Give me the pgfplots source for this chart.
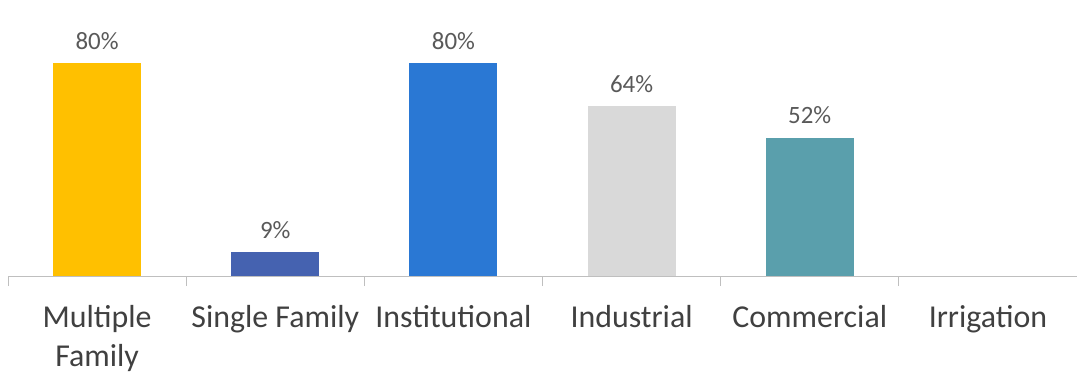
\documentclass[border=0pt]{standalone}
\usepackage{fontspec}
\setmainfont{Carlito}
\usepackage{pgfplots}
\pgfplotsset{compat=1.18}
\definecolor{cMF}{HTML}{FFC000}
\definecolor{cSF}{HTML}{4562B0}
\definecolor{cIN}{HTML}{2A78D4}
\definecolor{cID}{HTML}{D9D9D9}
\definecolor{cCO}{HTML}{5A9FAC}
\definecolor{axgray}{HTML}{BFBFBF}
\definecolor{labgray}{HTML}{404040}
\definecolor{valgray}{HTML}{595959}
\begin{document}
\begin{tikzpicture}
\begin{axis}[
  name=ax,
  scale only axis,
  width=1069bp, height=266bp,
  xmin=-0.5, xmax=5.5,
  ymin=0, ymax=100,
  ybar, bar width=88bp, bar shift=0pt,
  axis x line=bottom, axis y line=none,
  axis line style={axgray, line width=1pt, -},
  xtick={0,1,2,3,4,5},
  xticklabels={{Multiple\\Family},{Single Family},{Institutional},{Industrial},{Commercial},{Irrigation}},
  x tick label style={align=center, font=\fontsize{32}{39}\selectfont, text=labgray, yshift=-26bp},
  major tick length=0pt,
  extra x ticks={-0.5,0.5,1.5,2.5,3.5,4.5,5.5},
  extra x tick labels={},
  extra x tick style={major tick length=10bp, tick align=outside, tick style={axgray, line width=1pt}},
  /pgf/number format/assume math mode=true,
  nodes near coords={\pgfmathprintnumber{\pgfplotspointmeta}\%},
  every node near coord/.append style={font=\fontsize{25}{30}\selectfont, text=valgray, yshift=10bp},
  clip=false,
]
\addplot[fill=cMF, draw=none] coordinates {(0,80)};
\addplot[fill=cSF, draw=none] coordinates {(1,9)};
\addplot[fill=cIN, draw=none] coordinates {(2,80)};
\addplot[fill=cID, draw=none] coordinates {(3,64)};
\addplot[fill=cCO, draw=none] coordinates {(4,52)};
\end{axis}
\pgfresetboundingbox
\path ([xshift=-8bp,yshift=-106bp]ax.south west) rectangle ([yshift=10bp]ax.north east);
\end{tikzpicture}
\end{document}
